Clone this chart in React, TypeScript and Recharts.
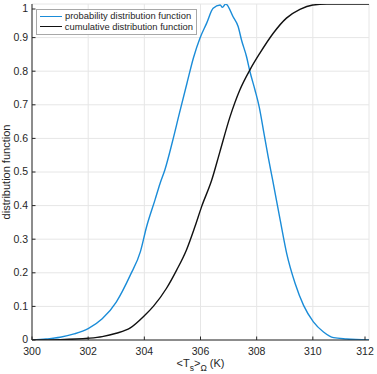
import React from 'react';
import { LineChart, Line, XAxis, YAxis, CartesianGrid, Legend } from 'recharts';

const pdfT = [300, 300.5, 301, 301.5, 302, 302.5, 303, 303.5, 303.86, 304.08, 304.38, 304.56, 304.73, 305, 305.25, 305.52, 305.75, 305.98, 306.22, 306.45, 306.7, 306.78, 306.9, 307.16, 307.34, 307.46, 307.64, 307.76, 307.94, 308.09, 308.26, 308.41, 308.57, 308.84, 309.07, 309.37, 309.67, 310.02, 310.38, 310.74, 311.2, 312];
const pdfV = [0, 0.003, 0.008, 0.018, 0.034, 0.063, 0.113, 0.193, 0.263, 0.337, 0.417, 0.466, 0.506, 0.59, 0.675, 0.765, 0.84, 0.898, 0.943, 0.987, 0.997, 0.99, 1.0, 0.962, 0.933, 0.893, 0.843, 0.799, 0.744, 0.694, 0.615, 0.545, 0.476, 0.356, 0.257, 0.168, 0.103, 0.054, 0.024, 0.007, 0.003, 0];

const cdfT = [300, 301, 302, 302.5, 303, 303.5, 304, 304.32, 304.79, 305.15, 305.5, 305.8, 306.04, 306.4, 306.69, 307.05, 307.4, 307.76, 308.11, 308.59, 309.06, 309.54, 310, 310.5, 312];
const cdfV = [0, 0.001, 0.005, 0.01, 0.02, 0.036, 0.072, 0.1, 0.154, 0.208, 0.268, 0.337, 0.397, 0.476, 0.56, 0.664, 0.744, 0.804, 0.853, 0.913, 0.958, 0.984, 0.997, 1, 1];

const seriesNames = ['probability distribution function', 'cumulative distribution function'];
const xTicks = [300, 302, 304, 306, 308, 310, 312];
const yTicks = [0, 0.1, 0.2, 0.3, 0.4, 0.5, 0.6, 0.7, 0.8, 0.9, 1];

const pdfData = pdfT.map((x, i) => ({ x, y: pdfV[i] }));
const cdfData = cdfT.map((x, i) => ({ x, y: cdfV[i] }));

const AX = '#262626';
const FONT = '"Liberation Sans", Arial, sans-serif';

const BottomTick = (p: any) => (
  <g>
    <line x1={p.x} x2={p.x} y1={p.y} y2={p.y - 3.5} stroke={AX} strokeWidth={1} />
    <text x={p.x} y={p.y + 14.5} textAnchor="middle" fontSize={10.5} fill={AX} fontFamily={FONT}>{p.payload.value}</text>
  </g>
);
const TopTick = (p: any) => (
  <line x1={p.x} x2={p.x} y1={p.y} y2={p.y + 3.5} stroke={AX} strokeWidth={1} />
);
const LeftTick = (p: any) => (
  <g>
    <line x1={p.x} x2={p.x + 3.5} y1={p.y} y2={p.y} stroke={AX} strokeWidth={1} />
    <text x={p.x - 4} y={p.y + 3.4} textAnchor="end" fontSize={10.5} fill={AX} fontFamily={FONT}>{String(+Number(p.payload.value).toFixed(1))}</text>
  </g>
);
const RightTick = (p: any) => (
  <line x1={p.x} x2={p.x - 3.5} y1={p.y} y2={p.y} stroke={AX} strokeWidth={1} />
);

const XLabel = (props: any) => {
  const vb = props.viewBox || { x: 32, width: 337, y: 340 };
  const cx = vb.x + vb.width / 2;
  return (
    <text x={cx} y={367} textAnchor="middle" fontSize={11} fill={AX} fontFamily={FONT}>
      <tspan>{'<T'}</tspan>
      <tspan fontSize={8.5} dy={3.5}>s</tspan>
      <tspan dy={-3.5}>{'>'}</tspan>
      <tspan fontSize={8.5} dy={3.5}>{'Ω'}</tspan>
      <tspan dy={-3.5}>{' (K)'}</tspan>
    </text>
  );
};

const YLabel = () => {
  const cy = 172;
  return (
    <text x={9.5} y={cy} transform={`rotate(-90, 9.5, ${cy})`} textAnchor="middle" fontSize={11} fill={AX} fontFamily={FONT}>
      distribution function
    </text>
  );
};

const LegendBox = (props: any) => {
  const items = [...(props.payload || [])].sort((a: any, b: any) => seriesNames.indexOf(a.value) - seriesNames.indexOf(b.value));
  return (
    <div style={{ border: '1px solid #a8a8a8', background: '#fff', padding: '1px 3px 2px 3px', fontFamily: FONT, fontSize: 9.4, color: AX, lineHeight: '10.5px', width: 161, boxSizing: 'border-box' }}>
      {items.map((it: any, i: number) => (
        <div key={i} style={{ display: 'flex', alignItems: 'center', whiteSpace: 'nowrap' }}>
          <span style={{ display: 'inline-block', width: 22, height: 0, borderTop: `1.5px solid ${it.color}`, marginRight: 3 }} />
          <span>{it.value}</span>
        </div>
      ))}
    </div>
  );
};

export default function App() {
  return (
    <div style={{ position: 'absolute', left: 0, top: 0, width: 377, height: 374, background: '#fff' }}>
      <LineChart width={377} height={374} margin={{ top: 4, right: 8, bottom: 0, left: 0 }}>
        <CartesianGrid stroke="#e6e6e6" strokeWidth={1} xAxisId="b" yAxisId="l" />
        <XAxis xAxisId="b" dataKey="x" type="number" domain={[300, 312]} ticks={xTicks} allowDataOverflow
          height={34} tickSize={0} tickMargin={0} tick={BottomTick} axisLine={{ stroke: AX }} tickLine={false}
          label={{ content: XLabel }} />
        <XAxis xAxisId="t" orientation="top" dataKey="x" type="number" domain={[300, 312]} ticks={xTicks} allowDataOverflow
          height={0} tickSize={0} tickMargin={0} tick={TopTick} axisLine={{ stroke: AX }} tickLine={false} />
        <YAxis yAxisId="l" type="number" domain={[0, 1]} ticks={yTicks} allowDataOverflow
          width={32} tickSize={0} tickMargin={0} tick={LeftTick} axisLine={{ stroke: AX }} tickLine={false}
          label={{ content: YLabel }} />
        <YAxis yAxisId="r" orientation="right" type="number" domain={[0, 1]} ticks={yTicks} allowDataOverflow
          width={0} tickSize={0} tickMargin={0} tick={RightTick} axisLine={{ stroke: AX }} tickLine={false} />
        <Line xAxisId="b" yAxisId="l" data={pdfData} dataKey="y" name={seriesNames[0]} type="monotone"
          stroke="#1a8cd8" strokeWidth={1.4} dot={false} isAnimationActive={false} />
        <Line xAxisId="b" yAxisId="l" data={cdfData} dataKey="y" name={seriesNames[1]} type="monotone"
          stroke="#111111" strokeWidth={1.4} dot={false} isAnimationActive={false} />
        <Legend content={LegendBox} layout="horizontal" verticalAlign="middle" align="center"
          wrapperStyle={{ position: 'absolute', left: 36, top: 9, width: 161, height: 25 }} />
      </LineChart>
    </div>
  );
}
